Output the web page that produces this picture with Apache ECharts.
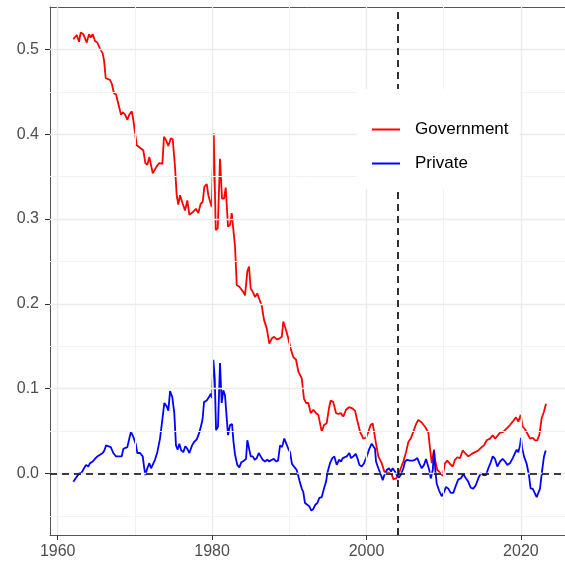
<!DOCTYPE html>
<html>
<head>
<meta charset="utf-8">
<script src="https://cdn.jsdelivr.net/npm/echarts@6/dist/echarts.min.js"></script>
<style>
  html, body { margin: 0; padding: 0; background: #fff; }
  #main { width: 565px; height: 565px; }
</style>
</head>
<body>
<div id="main"></div>
<script>
// Government series (year, share)
var govYears = [1962.02, 1962.46, 1962.76, 1962.98, 1963.32, 1963.54, 1963.76, 1964.05, 1964.27, 1964.53,
  1964.83, 1965.13, 1965.48, 1965.83, 1966.00, 1966.22, 1966.77, 1966.99, 1967.29, 1967.55,
  1967.85, 1968.20, 1968.42, 1968.72, 1969.02, 1969.27, 1969.59, 1969.79, 1970.23, 1970.66,
  1971.09, 1971.35, 1971.61, 1971.87, 1972.31, 1972.82, 1973.16, 1973.55, 1973.77, 1974.03,
  1974.33, 1974.64, 1974.90, 1975.19, 1975.41, 1975.62, 1975.84, 1976.19, 1976.49, 1976.79,
  1977.05, 1977.49, 1977.91, 1978.21, 1978.52, 1978.78, 1978.99, 1979.30, 1979.51, 1979.95,
  1980.21, 1980.47, 1980.73, 1981.02, 1981.28, 1981.54, 1981.76, 1982.06, 1982.32, 1982.54,
  1982.97, 1983.19, 1983.52, 1983.74, 1984.04, 1984.26, 1984.56, 1984.78, 1985.00, 1985.26,
  1985.56, 1985.85, 1986.42, 1986.72, 1987.07, 1987.41, 1987.72, 1988.02, 1988.37, 1988.70,
  1989.02, 1989.22, 1989.57, 1989.87, 1990.18, 1990.52, 1990.87, 1991.17, 1991.39, 1991.61,
  1991.90, 1992.16, 1992.46, 1992.77, 1993.11, 1993.46, 1993.76, 1993.98, 1994.20, 1994.49,
  1994.84, 1995.14, 1995.36, 1995.70, 1996.05, 1996.35, 1996.66, 1996.99, 1997.34, 1997.73,
  1998.08, 1998.51, 1998.73, 1999.16, 1999.59, 1999.94, 2000.23, 2000.54, 2000.80, 2001.01,
  2001.23, 2001.53, 2001.97, 2002.31, 2002.82, 2003.26, 2003.47, 2003.82, 2004.12, 2004.43,
  2004.77, 2005.12, 2005.42, 2005.73, 2006.06, 2006.41, 2006.71, 2007.15, 2007.58, 2008.01,
  2008.23, 2008.45, 2008.74, 2008.87, 2009.17, 2009.61, 2009.87, 2010.17, 2010.47, 2010.82,
  2011.17, 2011.46, 2011.76, 2012.11, 2012.46, 2012.76, 2013.19, 2013.63, 2014.05, 2014.48,
  2014.92, 2015.22, 2015.57, 2016.00, 2016.35, 2016.65, 2016.94, 2017.29, 2017.72, 2018.16,
  2018.59, 2019.02, 2019.37, 2019.66, 2019.97, 2020.23, 2020.53, 2020.83, 2021.18, 2021.53,
  2021.83, 2022.12, 2022.38, 2022.69, 2022.99, 2023.25];
var govValues = [0.512, 0.517, 0.509, 0.520, 0.518, 0.520, 0.508, 0.518, 0.514, 0.518,
  0.510, 0.508, 0.501, 0.495, 0.487, 0.466, 0.464, 0.460, 0.448, 0.447,
  0.436, 0.423, 0.426, 0.423, 0.417, 0.423, 0.427, 0.417, 0.387, 0.384,
  0.381, 0.366, 0.364, 0.373, 0.354, 0.362, 0.366, 0.365, 0.397, 0.393,
  0.386, 0.395, 0.394, 0.362, 0.328, 0.317, 0.328, 0.318, 0.310, 0.322,
  0.305, 0.308, 0.312, 0.307, 0.318, 0.320, 0.338, 0.341, 0.328, 0.314,
  0.401, 0.287, 0.289, 0.371, 0.324, 0.324, 0.337, 0.291, 0.293, 0.307,
  0.267, 0.222, 0.220, 0.218, 0.214, 0.210, 0.238, 0.244, 0.218, 0.214,
  0.208, 0.212, 0.198, 0.181, 0.171, 0.153, 0.159, 0.161, 0.158, 0.159,
  0.161, 0.179, 0.169, 0.159, 0.147, 0.137, 0.134, 0.120, 0.116, 0.112,
  0.088, 0.083, 0.083, 0.071, 0.075, 0.071, 0.069, 0.059, 0.049, 0.057,
  0.059, 0.077, 0.086, 0.084, 0.071, 0.070, 0.071, 0.067, 0.075, 0.078,
  0.077, 0.074, 0.065, 0.049, 0.041, 0.042, 0.049, 0.057, 0.059, 0.058,
  0.035, 0.020, 0.012, 0.002, 0.001, -0.001, -0.007, -0.006, -0.002, 0.006,
  0.014, 0.025, 0.037, 0.041, 0.049, 0.058, 0.063, 0.060, 0.055, 0.048,
  0.029, 0.012, 0.028, 0.016, 0.004, 0.000, -0.003, 0.012, 0.015, 0.011,
  0.008, 0.016, 0.019, 0.018, 0.027, 0.024, 0.020, 0.023, 0.025, 0.027,
  0.031, 0.033, 0.039, 0.041, 0.045, 0.041, 0.044, 0.048, 0.049, 0.053,
  0.057, 0.062, 0.066, 0.061, 0.069, 0.055, 0.052, 0.047, 0.041, 0.042,
  0.039, 0.039, 0.045, 0.065, 0.073, 0.082];

// Private series (year, share)
var privYears = [1962.02, 1962.46, 1962.80, 1963.11, 1963.41, 1963.67, 1963.96, 1964.18, 1964.53, 1964.83,
  1965.13, 1965.48, 1965.83, 1966.04, 1966.26, 1966.55, 1966.87, 1967.20, 1967.55, 1967.98,
  1968.29, 1968.50, 1969.02, 1969.27, 1969.49, 1969.79, 1970.10, 1970.31, 1970.66, 1971.01,
  1971.18, 1971.35, 1971.61, 1971.87, 1972.09, 1972.31, 1972.60, 1972.90, 1973.25, 1973.55,
  1973.81, 1974.12, 1974.33, 1974.55, 1974.84, 1975.10, 1975.32, 1975.54, 1975.75, 1976.01,
  1976.27, 1976.53, 1976.79, 1977.05, 1977.40, 1977.66, 1978.01, 1978.34, 1978.65, 1978.78,
  1978.95, 1979.30, 1979.60, 1979.82, 1979.99, 1980.16, 1980.34, 1980.51, 1980.76, 1981.02,
  1981.24, 1981.45, 1981.67, 1982.06, 1982.32, 1982.58, 1982.75, 1982.97, 1983.26, 1983.52,
  1983.78, 1984.13, 1984.39, 1984.56, 1984.78, 1985.00, 1985.26, 1985.52, 1985.78, 1986.04,
  1986.30, 1986.55, 1986.85, 1987.15, 1987.41, 1987.72, 1988.02, 1988.28, 1988.54, 1988.80,
  1989.06, 1989.35, 1989.57, 1989.87, 1990.09, 1990.35, 1990.61, 1990.96, 1991.30, 1991.61,
  1991.81, 1992.03, 1992.33, 1992.59, 1992.85, 1993.11, 1993.37, 1993.63, 1993.89, 1994.20,
  1994.49, 1994.75, 1994.97, 1995.27, 1995.57, 1995.83, 1996.14, 1996.44, 1996.70, 1996.92,
  1997.12, 1997.44, 1997.64, 1997.77, 1997.99, 1998.29, 1998.60, 1998.86, 1999.07, 1999.38,
  1999.68, 2000.03, 2000.36, 2000.67, 2000.88, 2001.10, 2001.23, 2001.53, 2001.84, 2002.10,
  2002.31, 2002.62, 2002.91, 2003.17, 2003.39, 2003.69, 2003.91, 2004.21, 2004.47, 2004.77,
  2004.99, 2005.29, 2005.63, 2005.98, 2006.28, 2006.58, 2006.84, 2007.15, 2007.45, 2007.71,
  2007.93, 2008.13, 2008.32, 2008.58, 2008.74, 2008.91, 2009.09, 2009.39, 2009.74, 2010.04,
  2010.30, 2010.60, 2010.91, 2011.24, 2011.59, 2011.89, 2012.20, 2012.54, 2012.89, 2013.19,
  2013.50, 2013.83, 2014.15, 2014.48, 2014.79, 2015.13, 2015.48, 2015.78, 2016.09, 2016.35,
  2016.65, 2016.94, 2017.29, 2017.64, 2017.94, 2018.24, 2018.59, 2018.94, 2019.24, 2019.46,
  2019.66, 2019.88, 2020.01, 2020.18, 2020.40, 2020.75, 2021.04, 2021.26, 2021.52, 2021.73,
  2022.04, 2022.25, 2022.47, 2022.73, 2022.99, 2023.21];
var privValues = [-0.010, -0.004, 0.000, 0.001, 0.006, 0.010, 0.008, 0.012, 0.014, 0.017,
  0.020, 0.022, 0.024, 0.027, 0.033, 0.032, 0.031, 0.024, 0.020, 0.020,
  0.020, 0.029, 0.031, 0.041, 0.049, 0.043, 0.035, 0.024, 0.024, 0.020,
  0.008, -0.002, 0.006, 0.012, 0.006, 0.005, 0.016, 0.025, 0.041, 0.063,
  0.083, 0.079, 0.074, 0.097, 0.090, 0.071, 0.033, 0.028, 0.035, 0.027,
  0.025, 0.032, 0.029, 0.024, 0.033, 0.037, 0.040, 0.048, 0.059, 0.065,
  0.084, 0.086, 0.090, 0.094, 0.089, 0.134, 0.112, 0.051, 0.055, 0.130,
  0.083, 0.098, 0.092, 0.045, 0.057, 0.058, 0.039, 0.022, 0.010, 0.007,
  0.013, 0.015, 0.017, 0.039, 0.040, 0.020, 0.020, 0.016, 0.018, 0.024,
  0.020, 0.016, 0.014, 0.016, 0.014, 0.016, 0.017, 0.014, 0.015, 0.033,
  0.031, 0.041, 0.040, 0.029, 0.025, 0.011, 0.008, 0.004, -0.008, -0.018,
  -0.022, -0.035, -0.037, -0.039, -0.044, -0.042, -0.037, -0.035, -0.029, -0.028,
  -0.018, -0.010, 0.002, 0.012, 0.018, 0.020, 0.010, 0.016, 0.014, 0.018,
  0.016, 0.020, 0.019, 0.024, 0.018, 0.020, 0.023, 0.017, 0.010, 0.008,
  0.012, 0.020, 0.029, 0.035, 0.037, 0.029, 0.014, 0.006, -0.001, -0.008,
  -0.002, 0.004, 0.006, 0.002, 0.006, 0.002, -0.002, -0.005, -0.001, 0.006,
  0.014, 0.016, 0.015, 0.015, 0.016, 0.018, 0.012, 0.006, 0.010, 0.017,
  0.016, 0.004, -0.006, 0.004, 0.027, 0.004, -0.012, -0.020, -0.027, -0.022,
  -0.016, -0.018, -0.023, -0.023, -0.014, -0.007, -0.006, -0.001, -0.006, -0.010,
  -0.017, -0.018, -0.014, -0.006, 0.000, -0.002, -0.002, 0.006, 0.013, 0.020,
  0.017, 0.008, 0.014, 0.017, 0.014, 0.010, 0.012, 0.018, 0.024, 0.028,
  0.025, 0.033, 0.042, 0.029, 0.020, 0.011, -0.002, -0.018, -0.018, -0.020,
  -0.028, -0.028, -0.018, 0.002, 0.020, 0.027];

var xTicks = [1960, 1980, 2000, 2020];
var xMinor = [1970, 1990, 2010];
var yTicks = [0, 0.1, 0.2, 0.3, 0.4, 0.5];
var yMinor = [-0.05, 0.05, 0.15, 0.25, 0.35, 0.45];
var cutYear = 2004;

function pairs(xs, ys) {
  var out = [];
  for (var i = 0; i < xs.length; i++) out.push([xs[i], ys[i]]);
  return out;
}

var font = 'Liberation Sans, Arial, sans-serif';
var gridLines = [];
xTicks.forEach(function (v) { gridLines.push({ xAxis: v, lineStyle: { color: '#ebebeb', width: 1.3, type: 'solid' } }); });
xMinor.forEach(function (v) { gridLines.push({ xAxis: v, lineStyle: { color: '#f2f2f2', width: 1, type: 'solid' } }); });
yTicks.forEach(function (v) { gridLines.push({ yAxis: v, lineStyle: { color: '#ebebeb', width: 1.3, type: 'solid' } }); });
yMinor.forEach(function (v) { gridLines.push({ yAxis: v, lineStyle: { color: '#f2f2f2', width: 1, type: 'solid' } }); });

var chart = echarts.init(document.getElementById('main'), null, { renderer: 'canvas' });
var option = {
  animation: false,
  backgroundColor: '#fff',
  textStyle: { fontFamily: font },
  grid: { left: 50, top: 7, width: 515, height: 528, containLabel: false },
  xAxis: [{
    type: 'value', min: 1959.0, max: 2025.71,
    axisLine: { show: true, onZero: false, lineStyle: { color: '#555', width: 1 } },
    axisTick: { show: true, length: 5, customValues: xTicks, lineStyle: { color: '#333' } },
    axisLabel: {
      customValues: xTicks, color: '#4d4d4d', fontSize: 16, margin: 9, fontFamily: font,
      formatter: function (v) { return String(v); }
    },
    splitLine: { show: false }
  }, {
    type: 'value', position: 'top', min: 1959.0, max: 2025.71,
    axisLine: { show: true, onZero: false, lineStyle: { color: '#555', width: 1 } },
    axisTick: { show: false }, axisLabel: { show: false }, splitLine: { show: false }
  }],
  yAxis: {
    type: 'value', min: -0.0727, max: 0.55,
    axisLine: { show: true, onZero: false, lineStyle: { color: '#555', width: 1 } },
    axisTick: { show: true, length: 5, customValues: yTicks, lineStyle: { color: '#333' } },
    axisLabel: {
      customValues: yTicks, color: '#4d4d4d', fontSize: 16, margin: 11, fontFamily: font,
      formatter: function (v) { return v.toFixed(1); }
    },
    splitLine: { show: false }
  },
  legend: {
    orient: 'vertical', left: 357, top: 89, z: 10,
    backgroundColor: '#fff',
    padding: [32, 11, 17, 15],
    icon: 'rect',
    itemWidth: 28, itemHeight: 2, itemGap: 17,
    textStyle: { fontSize: 17, lineHeight: 17, color: '#000', fontFamily: font, padding: [0, 0, 0, 10] },
    data: ['Government', 'Private']
  },
  series: [
    {
      type: 'line', name: 'grid', data: [], silent: true, z: 1,
      markLine: { silent: true, symbol: 'none', label: { show: false }, animation: false, data: gridLines }
    },
    {
      name: 'Government', type: 'line', data: pairs(govYears, govValues),
      symbol: 'none', z: 3, lineStyle: { color: '#ff0000', width: 1.8 }, itemStyle: { color: '#ff0000' }
    },
    {
      name: 'Private', type: 'line', data: pairs(privYears, privValues),
      symbol: 'none', z: 3, lineStyle: { color: '#0000ff', width: 1.8 }, itemStyle: { color: '#0000ff' }
    },
    {
      type: 'line', name: 'refs', data: [], silent: true, z: 2,
      markLine: {
        silent: true, symbol: 'none', label: { show: false }, animation: false,
        lineStyle: { color: '#000', width: 1.6, type: [7, 5] },
        data: [{ xAxis: cutYear }, { yAxis: 0 }]
      }
    }
  ]
};
chart.setOption(option);
</script>
</body>
</html>
